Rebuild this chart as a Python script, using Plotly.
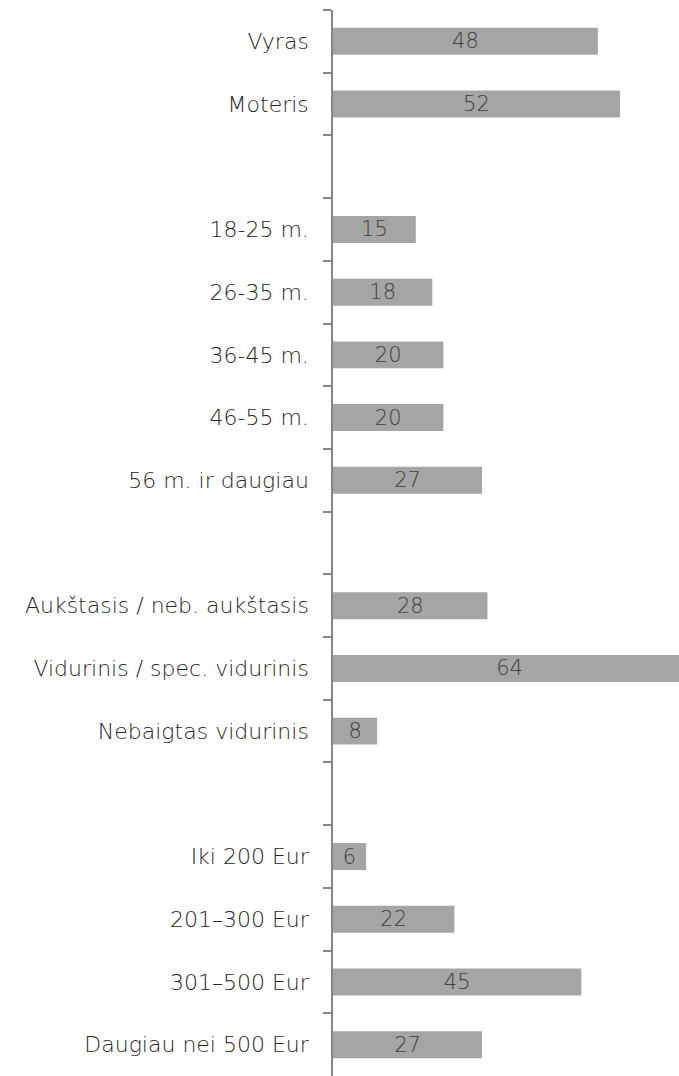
import plotly.graph_objects as go

categories = ["Vyras", "Moteris", " ",
              "18-25 m.", "26-35 m.", "36-45 m.", "46-55 m.", "56 m. ir daugiau", "  ",
              "Aukštasis / neb. aukštasis", "Vidurinis / spec. vidurinis", "Nebaigtas vidurinis", "   ",
              "Iki 200 Eur", "201–300 Eur", "301–500 Eur", "Daugiau nei 500 Eur"]
values = [48, 52, None,
          15, 18, 20, 20, 27, None,
          28, 64, 8, None,
          6, 22, 45, 27]
labels = ["" if v is None else str(v) for v in values]

FONT = "DejaVu Sans, Open Sans, sans-serif"

fig = go.Figure(go.Bar(
    y=categories, x=values, orientation="h",
    marker=dict(color="#A5A5A5", line=dict(width=0)),
    width=0.43,
    text=labels, textposition="inside", insidetextanchor="middle", textangle=0,
    textfont=dict(family=FONT, size=21, color="#404040", weight=200),
    constraintext="none", cliponaxis=True,
    hoverinfo="skip",
))

fig.update_layout(
    width=679, height=1076,
    margin=dict(l=333, r=0, t=10, b=0),
    paper_bgcolor="white", plot_bgcolor="white",
    showlegend=False,
    font=dict(family=FONT, weight=200),
    xaxis=dict(visible=False, range=[0, 62.7]),
    yaxis=dict(
        type="category", categoryorder="array", categoryarray=categories,
        autorange="reversed",
        showline=True, linecolor="#868686", linewidth=1.5,
        ticks="outside", tickson="boundaries", ticklen=8, tickcolor="#868686", tickwidth=1.5,
        tickfont=dict(family=FONT, size=22, color="#262626", weight=200),
        ticklabelstandoff=18,
        showgrid=False, zeroline=False,
    ),
)

fig.write_html(
    "out.html",
    config={"displayModeBar": False},
    post_script="document.body.style.margin='0';document.documentElement.style.overflow='hidden';document.body.style.overflow='hidden';",
)
